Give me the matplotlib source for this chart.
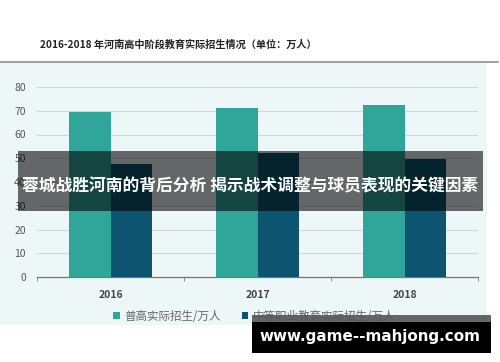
import matplotlib
matplotlib.use("Agg")
import matplotlib.pyplot as plt
from matplotlib.patches import Rectangle
from matplotlib.lines import Line2D
import numpy as np

plt.rcParams['font.family'] = ['Noto Sans CJK SC', 'DejaVu Sans']

years = ['2016', '2017', '2018']
general_high = [69.3, 71.0, 72.4]
vocational = [47.4, 52.4, 49.6]
yticks = [0, 10, 20, 30, 40, 50, 60, 70, 80]
series_names = ['普高实际招生/万人', '中等职业教育实际招生/万人']
title = '2016-2018 年河南高中阶段教育实际招生情况（单位：万人）'
banner = '蓉城战胜河南的背后分析 揭示战术调整与球员表现的关键因素'
watermark = 'www.game--mahjong.com'

W, H = 500, 362
def fx(p): return p / W
def fy(p): return 1 - p / H

teal = '#30a59a'
navy = '#0c5470'

fig = plt.figure(figsize=(5, 3.62), dpi=100)
fig.patch.set_facecolor('white')

# light background panel
fig.add_artist(Rectangle((fx(0), fy(325)), fx(487), (325 - 63) / H,
                         transform=fig.transFigure, facecolor='#eef7f7',
                         edgecolor='none', zorder=0))
# separator line
fig.add_artist(Line2D([fx(0), fx(498)], [fy(62), fy(62)], transform=fig.transFigure,
                      color='#8a8f8f', lw=1.2, zorder=1))
fig.text(fx(40), fy(45), title, fontsize=7.3, fontweight='bold', color='#222222',
         va='center', ha='left')

ax = fig.add_axes([fx(37), fy(277), (478 - 37) / W, (277 - 87) / H])
ax.set_facecolor('none')
x = np.arange(len(years))
bw = 0.28
b1 = ax.bar(x - bw / 2, general_high, bw, color=teal, label=series_names[0], zorder=3)
b2 = ax.bar(x + bw / 2, vocational, bw, color=navy, label=series_names[1], zorder=3)
ax.set_xlim(-0.5, 2.5)
ax.set_ylim(0, 80)
ax.set_yticks(yticks)
ax.yaxis.grid(True, color='#cfd6d6', lw=0.8, zorder=0)
ax.set_xticks(x)
ax.set_xticklabels(years)
ax.set_xticks([-0.5, 0.5, 1.5, 2.5], minor=True)
ax.tick_params(axis='x', which='major', length=0, pad=9, labelsize=7.5, labelcolor='#444444')
ax.tick_params(axis='x', which='minor', length=3, color='#777777', direction='out')
ax.tick_params(axis='y', length=0, pad=8, labelsize=7.5, labelcolor='#555555')
for s in ['top', 'right', 'left']:
    ax.spines[s].set_visible(False)
ax.spines['bottom'].set_color('#777777')
ax.spines['bottom'].set_linewidth(0.9)
for lab in ax.get_xticklabels():
    lab.set_fontweight('bold')

leg = fig.legend(handles=[b1, b2], loc='center left', bbox_to_anchor=(fx(103), fy(316)),
                 ncol=2, frameon=False, fontsize=8.3, handlelength=0.55, handleheight=0.55,
                 handletextpad=0.4, columnspacing=1.8, labelcolor='#666666')

# banner overlay
fig.add_artist(Rectangle((fx(18), fy(211)), (483 - 18) / W, (211 - 151) / H,
                         transform=fig.transFigure, facecolor='black', alpha=0.58,
                         edgecolor='none', zorder=10))
fig.text(fx(250), fy(186), banner, fontsize=12.1, fontweight='bold', color='white',
         ha='center', va='center', zorder=11)

# watermark
fig.add_artist(Rectangle((fx(252), fy(322)), (491 - 252) / W, (322 - 315) / H,
                         transform=fig.transFigure, facecolor='#555555', alpha=0.9,
                         edgecolor='none', zorder=10))
fig.add_artist(Rectangle((fx(252), fy(353)), (491 - 252) / W, (353 - 322) / H,
                         transform=fig.transFigure, facecolor='black',
                         edgecolor='none', zorder=10))
fig.text(fx(370), fy(336), watermark, fontsize=10.9, fontweight='bold', color='white',
         ha='center', va='center', family='DejaVu Sans', zorder=11)

fig.savefig('out.png', dpi=100)
